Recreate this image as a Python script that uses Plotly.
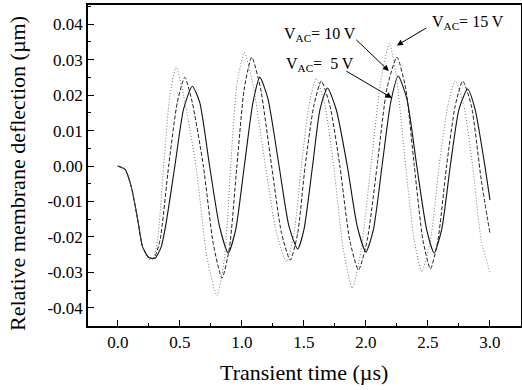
import plotly.graph_objects as go

# 5 V (solid)
t5 = [0.0, 0.06, 0.11, 0.16, 0.20, 0.25, 0.30, 0.35, 0.39, 0.46, 0.53, 0.60, 0.66, 0.74, 0.82, 0.89, 0.95, 1.02, 1.09, 1.145, 1.21, 1.30, 1.38, 1.45, 1.50, 1.57, 1.63, 1.69, 1.76, 1.85, 1.93, 2.00, 2.06, 2.13, 2.20, 2.26, 2.33, 2.41, 2.49, 2.55, 2.61, 2.68, 2.75, 2.82, 2.88, 2.95, 3.0]
y5 = [0.0, -0.001, -0.006, -0.015, -0.0228, -0.0258, -0.026, -0.0228, -0.016, 0.0, 0.016, 0.0225, 0.018, 0.0, -0.017, -0.0245, -0.018, 0.0, 0.018, 0.025, 0.019, 0.0, -0.017, -0.0234, -0.018, 0.0, 0.016, 0.022, 0.016, 0.0, -0.017, -0.0242, -0.018, 0.0, 0.018, 0.0254, 0.019, 0.0, -0.018, -0.0245, -0.018, 0.0, 0.016, 0.0217, 0.016, 0.002, -0.0096]

# 10 V (dashed)
t10 = [0.0, 0.06, 0.11, 0.16, 0.20, 0.25, 0.29, 0.34, 0.41, 0.48, 0.54, 0.60, 0.69, 0.77, 0.84, 0.90, 0.96, 1.02, 1.08, 1.15, 1.24, 1.32, 1.39, 1.45, 1.51, 1.58, 1.64, 1.71, 1.79, 1.87, 1.94, 2.01, 2.09, 2.17, 2.25, 2.32, 2.39, 2.46, 2.52, 2.58, 2.65, 2.72, 2.78, 2.85, 2.93, 3.0]
y10 = [0.0, -0.001, -0.006, -0.015, -0.0228, -0.0258, -0.026, -0.021, 0.0, 0.018, 0.025, 0.018, 0.0, -0.022, -0.0316, -0.023, 0.0, 0.022, 0.0307, 0.022, 0.0, -0.019, -0.0265, -0.019, 0.0, 0.017, 0.024, 0.017, 0.0, -0.021, -0.0293, -0.021, 0.0, 0.022, 0.0307, 0.022, 0.0, -0.021, -0.029, -0.021, 0.0, 0.017, 0.024, 0.017, -0.004, -0.019]

# 15 V (dotted)
t15 = [0.0, 0.06, 0.11, 0.16, 0.20, 0.24, 0.28, 0.32, 0.37, 0.42, 0.47, 0.53, 0.63, 0.72, 0.80, 0.86, 0.91, 0.96, 1.02, 1.09, 1.19, 1.28, 1.36, 1.42, 1.48, 1.54, 1.60, 1.67, 1.74, 1.82, 1.89, 1.96, 2.04, 2.12, 2.19, 2.25, 2.32, 2.39, 2.45, 2.52, 2.59, 2.66, 2.72, 2.79, 2.86, 2.93, 3.0]
y15 = [0.0, -0.001, -0.006, -0.015, -0.0228, -0.026, -0.0265, -0.021, 0.0, 0.02, 0.028, 0.02, 0.0, -0.026, -0.0366, -0.026, 0.0, 0.023, 0.032, 0.023, 0.0, -0.019, -0.027, -0.019, 0.0, 0.017, 0.0247, 0.017, 0.0, -0.024, -0.0344, -0.024, 0.0, 0.024, 0.0346, 0.024, 0.0, -0.021, -0.0298, -0.021, 0.0, 0.017, 0.024, 0.017, 0.0, -0.021, -0.030]

y_tickvals = [-0.04, -0.03, -0.02, -0.01, 0.0, 0.01, 0.02, 0.03, 0.04]
y_ticktext = ["-0.04", "-0.03", "-0.02", "-0.01", "0.00", "0.01", "0.02", "0.03", "0.04"]
x_tickvals = [0.0, 0.5, 1.0, 1.5, 2.0, 2.5, 3.0]
x_ticktext = ["0.0", "0.5", "1.0", "1.5", "2.0", "2.5", "3.0"]

FONT = "Liberation Serif"

fig = go.Figure()
fig.add_trace(go.Scatter(x=t5, y=y5, mode="lines", name="5 V",
                         line=dict(color="#111111", width=1.1, shape="spline", smoothing=0.6)))
fig.add_trace(go.Scatter(x=t10, y=y10, mode="lines", name="10 V",
                         line=dict(color="#222222", width=1.0, dash="4px,2px", shape="spline", smoothing=0.6)))
fig.add_trace(go.Scatter(x=t15, y=y15, mode="lines", name="15 V",
                         line=dict(color="#777777", width=1.0, dash="1px,2px", shape="spline", smoothing=0.6)))

ann_font = dict(family=FONT, size=16, color="black")
labels = [
    (1.63, 0.0372, "V<sub>AC</sub>= 10 V"),
    (1.63, 0.0287, "V<sub>AC</sub>=  5 V"),
    (2.82, 0.0406, "V<sub>AC</sub>= 15 V"),
]
for x, y, txt in labels:
    fig.add_annotation(x=x, y=y, text=txt, showarrow=False, font=ann_font,
                       xanchor="center", yanchor="middle")

arrows = [
    (2.185, 0.0268, 1.91, 0.036),
    (2.21, 0.0192, 1.83, 0.027),
    (2.25, 0.034, 2.5, 0.0392),
]
for x, y, ax, ay in arrows:
    fig.add_annotation(x=x, y=y, ax=ax, ay=ay, axref="x", ayref="y", text="",
                       showarrow=True, arrowhead=2, arrowsize=1.2, arrowwidth=1,
                       arrowcolor="black")

# axis titles as paper annotations
fig.add_annotation(text="Transient time (µs)", xref="paper", yref="paper",
                   x=(304 - 88) / 433, y=-(373 - 326) / 321, showarrow=False,
                   font=dict(family=FONT, size=22, color="black"),
                   xanchor="center", yanchor="middle")
fig.add_annotation(text="Relative membrane deflection (µm)", xref="paper", yref="paper",
                   x=-(88 - 18) / 433, y=(326 - 174) / 321, showarrow=False, textangle=-90,
                   font=dict(family=FONT, size=22, color="black"),
                   xanchor="center", yanchor="middle")

fig.update_layout(
    width=522, height=390,
    margin=dict(l=88, r=1, t=5, b=64),
    paper_bgcolor="white", plot_bgcolor="white",
    showlegend=False,
    font=dict(family=FONT, color="black", size=16),
    xaxis=dict(range=[-0.24, 3.25], tickvals=x_tickvals, ticktext=x_ticktext,
               ticks="inside", ticklen=6, tickwidth=1, tickcolor="black",
               minor=dict(ticks="inside", ticklen=3, dtick=0.25, tick0=0, tickcolor="black"),
               showgrid=False, zeroline=False, showline=True, linecolor="black",
               linewidth=1.5, mirror=True, automargin=False,
               tickfont=dict(family=FONT, size=17)),
    yaxis=dict(range=[-0.0451, 0.0454], tickvals=y_tickvals, ticktext=y_ticktext,
               ticks="inside", ticklen=6, tickwidth=1, tickcolor="black",
               minor=dict(ticks="inside", ticklen=3, dtick=0.005, tick0=0, tickcolor="black"),
               showgrid=False, zeroline=False, showline=True, linecolor="black",
               linewidth=1.5, mirror=True, automargin=False,
               tickfont=dict(family=FONT, size=17)),
)

fig.write_html("out.html", config={"displayModeBar": False},
               post_script="document.body.style.margin='0';document.body.style.overflow='hidden';")
